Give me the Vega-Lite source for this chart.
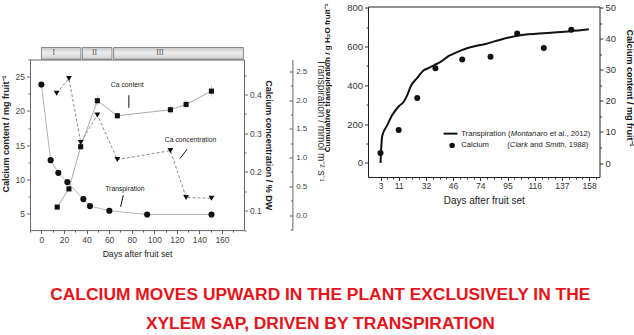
{
  "$schema": "https://vega.github.io/schema/vega-lite/v6.json",
  "background": "white",
  "padding": {"left": 0, "top": 1.5, "right": 0, "bottom": 0},
  "config": {
    "font": "Liberation Sans",
    "view": {"stroke": null},
    "axis": {"grid": false, "domain": false, "tickSize": 3, "labelFont": "Liberation Sans", "titleFont": "Liberation Sans"}
  },
  "title": {
    "text": ["CALCIUM MOVES UPWARD IN THE PLANT EXCLUSIVELY IN THE", "XYLEM SAP, DRIVEN BY TRANSPIRATION"],
    "orient": "bottom", "anchor": "middle", "font": "Liberation Sans", "fontSize": 17.4, "fontWeight": "bold",
    "color": "#e5141b", "lineHeight": 29, "offset": 27.5, "dx": 3
  },
  "datasets": {
    "phases": [
      {"phase": "I", "start": 0, "end": 35, "lx": 11},
      {"phase": "II", "start": 36.3, "end": 62.5, "lx": 47},
      {"phase": "III", "start": 64, "end": 179, "lx": 105}
    ],
    "transpL": [
      {"day": 0, "t": 2.27}, {"day": 8.2, "t": 0.955}, {"day": 15, "t": 0.735}, {"day": 23, "t": 0.574},
      {"day": 37.2, "t": 0.278}, {"day": 43, "t": 0.157}, {"day": 60.2, "t": 0.075}, {"day": 93.7, "t": 0.01}, {"day": 150.7, "t": 0.01}
    ],
    "content": [
      {"day": 14, "c": 5.94, "lo": 5.7, "hi": 6.2}, {"day": 24.4, "c": 8.6, "lo": 8.3, "hi": 8.9},
      {"day": 34.8, "c": 14.77, "lo": 14.3, "hi": 15.2}, {"day": 49.6, "c": 21.5, "lo": 20.8, "hi": 22.3},
      {"day": 67.3, "c": 19.3, "lo": 18.8, "hi": 19.8}, {"day": 114.3, "c": 20.18, "lo": 19.6, "hi": 20.8},
      {"day": 128.2, "c": 20.96, "lo": 20.4, "hi": 21.5}, {"day": 150.7, "c": 22.9, "lo": 22.1, "hi": 23.7}
    ],
    "conc": [
      {"day": 13.5, "p": 0.403}, {"day": 24.4, "p": 0.441}, {"day": 34.8, "p": 0.276}, {"day": 49.6, "p": 0.347},
      {"day": 67.3, "p": 0.232}, {"day": 114.3, "p": 0.255}, {"day": 128.2, "p": 0.134}, {"day": 150.7, "p": 0.132}
    ],
    "notes": [
      {"day": 76.1, "c": 23.87, "label": "Ca content"},
      {"day": 132.1, "c": 15.73, "label": "Ca concentration"},
      {"day": 74, "c": 8.65, "label": "Transpiration"}
    ],
    "arrows": [
      {"day": 77.5, "c": 22.3, "day2": 77.5, "c2": 20.46},
      {"day": 129.2, "c": 14.41, "day2": 122.7, "c2": 13.04},
      {"day": 72.6, "c": 7.68, "day2": 70.2, "c2": 5.97}
    ],
    "cum": [
      {"day": 3, "g": 0}, {"day": 3.75, "g": 138}, {"day": 5.9, "g": 193}, {"day": 8.1, "g": 245}, {"day": 11.1, "g": 292},
      {"day": 14.9, "g": 315}, {"day": 17.6, "g": 349}, {"day": 20.1, "g": 392}, {"day": 25.3, "g": 438}, {"day": 30.4, "g": 477},
      {"day": 33.5, "g": 489}, {"day": 36.1, "g": 503}, {"day": 39.5, "g": 520}, {"day": 43.8, "g": 551}, {"day": 50.2, "g": 571},
      {"day": 58.8, "g": 588}, {"day": 69.1, "g": 602}, {"day": 78, "g": 613}, {"day": 89.6, "g": 635}, {"day": 105, "g": 658},
      {"day": 125.6, "g": 670}, {"day": 143.5, "g": 679}, {"day": 157.8, "g": 689}
    ],
    "calcium": [
      {"day": 3, "mg": 3.2}, {"day": 11, "mg": 10.65}, {"day": 25.3, "mg": 20.95}, {"day": 36.9, "mg": 30.5},
      {"day": 55.4, "mg": 33.3}, {"day": 81.9, "mg": 34.2}, {"day": 102.5, "mg": 41.7}, {"day": 123, "mg": 37}, {"day": 144.2, "mg": 42.9}
    ],
    "legline": [{"day": 41.1, "day2": 50.5, "g": 150.6}],
    "legdot": [{"day": 45.5, "g": 90}],
    "legtext": [
      {"day": 54.3, "g": 150.6, "t": "Transpiration ("},
      {"day": 127.6, "g": 150.6, "t": "et al., 2012)"},
      {"day": 54.3, "g": 90, "t": "Calcium"},
      {"day": 94.8, "g": 90, "t": "("},
      {"day": 112.3, "g": 90, "t": "and"},
      {"day": 139, "g": 90, "t": ", 1988)"}
    ],
    "legitalic": [
      {"day": 97.5, "g": 150.6, "t": "Montanaro"},
      {"day": 96.8, "g": 90, "t": "Clark"},
      {"day": 123.9, "g": 90, "t": "Smith"}
    ]
  },
  "hconcat": [
    {
      "vconcat": [
        {
          "width": 214, "height": 41,
          "data": {"values": [{}]},
          "mark": {"type": "text", "text": ""}
        },
        {
          "width": 214, "height": 11.7,
          "data": {"name": "phases"},
          "layer": [
            {
              "mark": {"type": "rect", "stroke": "#8a8a8a", "strokeWidth": 1,
                "fill": {"gradient": "linear", "x1": 0, "y1": 0, "x2": 0, "y2": 1,
                  "stops": [{"offset": 0, "color": "#c9c9c9"}, {"offset": 0.45, "color": "#ececec"}, {"offset": 1, "color": "#cfcfcf"}]}},
              "encoding": {
                "x": {"field": "start", "type": "quantitative", "scale": {"domain": [-10.1, 179.5], "nice": false, "zero": false}, "axis": null},
                "x2": {"field": "end"}
              }
            },
            {
              "mark": {"type": "text", "font": "Liberation Serif", "fontSize": 7.5, "color": "#555"},
              "encoding": {
                "x": {"field": "lx", "type": "quantitative", "scale": {"domain": [-10.1, 179.5], "nice": false, "zero": false}, "axis": null},
                "text": {"field": "phase"}
              }
            }
          ]
        },
        {
          "width": 214, "height": 170.6,
          "view": {"stroke": "#666", "strokeWidth": 1},
          "encoding": {
            "x": {"field": "day", "type": "quantitative", "scale": {"domain": [-10.1, 179.5], "nice": false, "zero": false},
              "axis": {"values": [-10, 0, 10, 20, 30, 40, 50, 60, 70, 80, 90, 100, 110, 120, 130, 140, 150, 160, 170],
                "labelExpr": "datum.value % 20 === 0 && datum.value >= 0 ? datum.label : ''",
                "tickSize": {"condition": {"test": "datum.value % 20 !== 0", "value": 2}, "value": 3.5},
                "title": "Days after fruit set", "titleFontSize": 8.6,
                "titleFontWeight": "normal", "titleColor": "#222", "labelFontSize": 8.5, "labelColor": "#444", "tickColor": "#666",
                "labelPadding": 2, "titlePadding": 5}}
          },
          "resolve": {"scale": {"y": "independent"}},
          "layer": [
            {
              "data": {"name": "content"},
              "mark": {"type": "rule", "color": "#c4c4c4", "strokeWidth": 1},
              "encoding": {
                "y": {"field": "lo", "type": "quantitative", "scale": {"domain": [2.57, 27.53], "nice": false, "zero": false}, "axis": null},
                "y2": {"field": "hi"}
              }
            },
            {
              "data": {"name": "content"},
              "mark": {"type": "line", "color": "#a8a8a8", "strokeWidth": 1},
              "encoding": {
                "y": {"field": "c", "type": "quantitative", "scale": {"domain": [2.57, 27.53], "nice": false, "zero": false}, "axis": null}
              }
            },
            {
              "data": {"name": "content"},
              "mark": {"type": "point", "shape": "square", "filled": true, "size": 26, "color": "#111", "opacity": 1},
              "encoding": {
                "y": {"field": "c", "type": "quantitative", "scale": {"domain": [2.57, 27.53], "nice": false, "zero": false},
                  "axis": {"orient": "left", "values": [5, 7.5, 10, 12.5, 15, 17.5, 20, 22.5, 25, 27.5],
                    "labelExpr": "datum.value % 5 === 0 ? datum.label : ''",
                    "tickSize": {"condition": {"test": "datum.value % 5 !== 0", "value": 2}, "value": 3.5},
                    "title": "Calcium content / mg fruit⁻¹", "titleFontSize": 9, "titleY": 74,
                    "titleFontWeight": "bold", "titleColor": "#222", "labelFontSize": 8.5, "labelColor": "#444", "tickColor": "#666",
                    "labelPadding": 2, "titlePadding": 5}}
              }
            },
            {
              "data": {"name": "notes"},
              "mark": {"type": "text", "fontSize": 6.8, "color": "#222"},
              "encoding": {
                "y": {"field": "c", "type": "quantitative", "scale": {"domain": [2.57, 27.53], "nice": false, "zero": false}, "axis": null},
                "text": {"field": "label"}
              }
            },
            {
              "data": {"name": "arrows"},
              "mark": {"type": "rule", "color": "#111", "strokeWidth": 1},
              "encoding": {
                "y": {"field": "c", "type": "quantitative", "scale": {"domain": [2.57, 27.53], "nice": false, "zero": false}, "axis": null},
                "x2": {"field": "day2"}, "y2": {"field": "c2"}
              }
            },
            {
              "data": {"name": "conc"},
              "mark": {"type": "line", "color": "#8c8c8c", "strokeWidth": 1, "strokeDash": [3, 2]},
              "encoding": {
                "y": {"field": "p", "type": "quantitative", "scale": {"domain": [0.05, 0.49], "nice": false, "zero": false}, "axis": null}
              }
            },
            {
              "data": {"name": "conc"},
              "mark": {"type": "point", "shape": "triangle-down", "filled": true, "size": 34, "color": "#111", "opacity": 1},
              "encoding": {
                "y": {"field": "p", "type": "quantitative", "scale": {"domain": [0.05, 0.49], "nice": false, "zero": false},
                  "axis": {"orient": "right", "values": [0.05, 0.1, 0.15, 0.2, 0.25, 0.3, 0.35, 0.4, 0.45], "format": ".1f",
                    "labelExpr": "round(datum.value * 100) % 10 === 0 ? datum.label : ''",
                    "tickSize": {"condition": {"test": "round(datum.value * 100) % 10 !== 0", "value": 2}, "value": 3.5},
                    "title": "Calcium concentration / % DW",
                    "titleFontSize": 9, "titleFontWeight": "bold", "titleColor": "#222", "labelFontSize": 8.5, "labelColor": "#444",
                    "tickColor": "#666", "labelPadding": 2, "titlePadding": 2}}
              }
            },
            {
              "data": {"name": "transpL"},
              "mark": {"type": "line", "color": "#b5b5b5", "strokeWidth": 1},
              "encoding": {
                "y": {"field": "t", "type": "quantitative", "scale": {"domain": [-0.261, 2.705], "nice": false, "zero": false}, "axis": null}
              }
            },
            {
              "data": {"name": "transpL"},
              "mark": {"type": "circle", "size": 38, "color": "#111", "opacity": 1},
              "encoding": {
                "y": {"field": "t", "type": "quantitative", "scale": {"domain": [-0.261, 2.705], "nice": false, "zero": false},
                  "axis": {"orient": "right", "offset": 48.4, "domain": true, "domainColor": "#666",
                    "values": [-0.25, 0, 0.25, 0.5, 0.75, 1, 1.25, 1.5, 1.75, 2, 2.25, 2.5], "format": ".1f",
                    "labelExpr": "round(datum.value * 100) % 50 === 0 && datum.value >= 0 ? datum.label : ''",
                    "tickSize": {"condition": {"test": "round(datum.value * 100) % 50 !== 0", "value": -2}, "value": -3.5},
                    "title": "Transpiration / mmol m⁻² s⁻¹", "titleFontSize": 10, "titleFontWeight": "normal", "titleY": 60.6,
                    "titleColor": "#333", "labelFontSize": 8, "labelColor": "#444", "tickColor": "#666", "labelPadding": 6.8, "titlePadding": 9}}
              }
            }
          ]
        }
      ],
      "spacing": 0,
      "bounds": "flush"
    },
    {
      "width": 231.5, "height": 170.5,
      "view": {"stroke": "#222", "strokeWidth": 1},
      "encoding": {
        "x": {"field": "day", "type": "quantitative",
          "scale": {"domain": [-2.5, 3, 11, 32, 46, 74, 95, 116, 137, 158, 166],
            "range": [0, 12.5, 30.7, 57.9, 85.1, 112.3, 139.5, 166.7, 193.9, 221.1, 231.5], "nice": false, "zero": false},
          "axis": {"values": [3, 5.67, 8.33, 11, 16.25, 21.5, 26.75, 32, 35.5, 39, 42.5, 46, 53, 60, 67, 74, 79.25, 84.5, 89.75, 95, 100.25, 105.5, 110.75, 116, 121.25, 126.5, 131.75, 137, 142.25, 147.5, 152.75, 158, 163.25],
            "labelExpr": "indexof([3, 11, 32, 46, 74, 95, 116, 137, 158], datum.value) >= 0 ? datum.label : ''",
            "tickSize": {"condition": {"test": "indexof([3, 11, 32, 46, 74, 95, 116, 137, 158], datum.value) < 0", "value": 2}, "value": 3.5},
            "title": "Days after fruit set", "titleFontSize": 10,
            "titleFontWeight": "normal", "titleColor": "#222", "labelFontSize": 8.5, "labelColor": "#333", "tickColor": "#333",
            "labelPadding": 1, "titlePadding": 5}}
      },
      "resolve": {"scale": {"y": "independent"}},
      "layer": [
        {
          "encoding": {
            "y": {"field": "g", "type": "quantitative", "scale": {"domain": [-73, 806], "nice": false, "zero": false},
              "axis": {"orient": "left", "values": [0, 100, 200, 300, 400, 500, 600, 700, 800],
                "labelExpr": "datum.value % 200 === 0 ? datum.label : ''",
                "tickSize": {"condition": {"test": "datum.value % 200 !== 0", "value": 2}, "value": 3.5},
                "title": "Cumulative transpiration / g H₂O fruit⁻¹", "titleY": 71,
                "titleFontSize": 8.1, "titleFontWeight": "bold", "titleColor": "#111", "labelFontSize": 9.5, "labelColor": "#333",
                "tickColor": "#333", "labelPadding": 2, "titlePadding": 15}}
          },
          "layer": [
            {"data": {"name": "cum"}, "mark": {"type": "line", "color": "#111", "strokeWidth": 2, "interpolate": "monotone"}},
            {"data": {"name": "legline"}, "mark": {"type": "rule", "color": "#111", "strokeWidth": 2}, "encoding": {"x2": {"field": "day2"}}},
            {"data": {"name": "legdot"}, "mark": {"type": "circle", "size": 30, "color": "#111", "opacity": 1}},
            {"data": {"name": "legtext"}, "mark": {"type": "text", "align": "left", "fontSize": 7.7, "color": "#222"}, "encoding": {"text": {"field": "t"}}},
            {"data": {"name": "legitalic"}, "mark": {"type": "text", "align": "left", "fontSize": 7.7, "fontStyle": "italic", "color": "#222"}, "encoding": {"text": {"field": "t"}}}
          ]
        },
        {
          "data": {"name": "calcium"},
          "mark": {"type": "circle", "size": 36, "color": "#111", "opacity": 1},
          "encoding": {
            "y": {"field": "mg", "type": "quantitative", "scale": {"domain": [-4.5, 50.4], "nice": false, "zero": false},
              "axis": {"orient": "right", "values": [0, 5, 10, 15, 20, 25, 30, 35, 40, 45, 50],
                "labelExpr": "datum.value % 10 === 0 ? datum.label : ''",
                "tickSize": {"condition": {"test": "datum.value % 10 !== 0", "value": 2}, "value": 3.5},
                "title": "Calcium content / mg fruit⁻¹", "titleY": 81,
                "titleFontSize": 9, "titleFontWeight": "bold", "titleColor": "#111", "labelFontSize": 9.5, "labelColor": "#333",
                "tickColor": "#333", "labelPadding": 2, "titlePadding": 9}}
          }
        }
      ]
    }
  ],
  "spacing": 338,
  "bounds": "flush"
}
